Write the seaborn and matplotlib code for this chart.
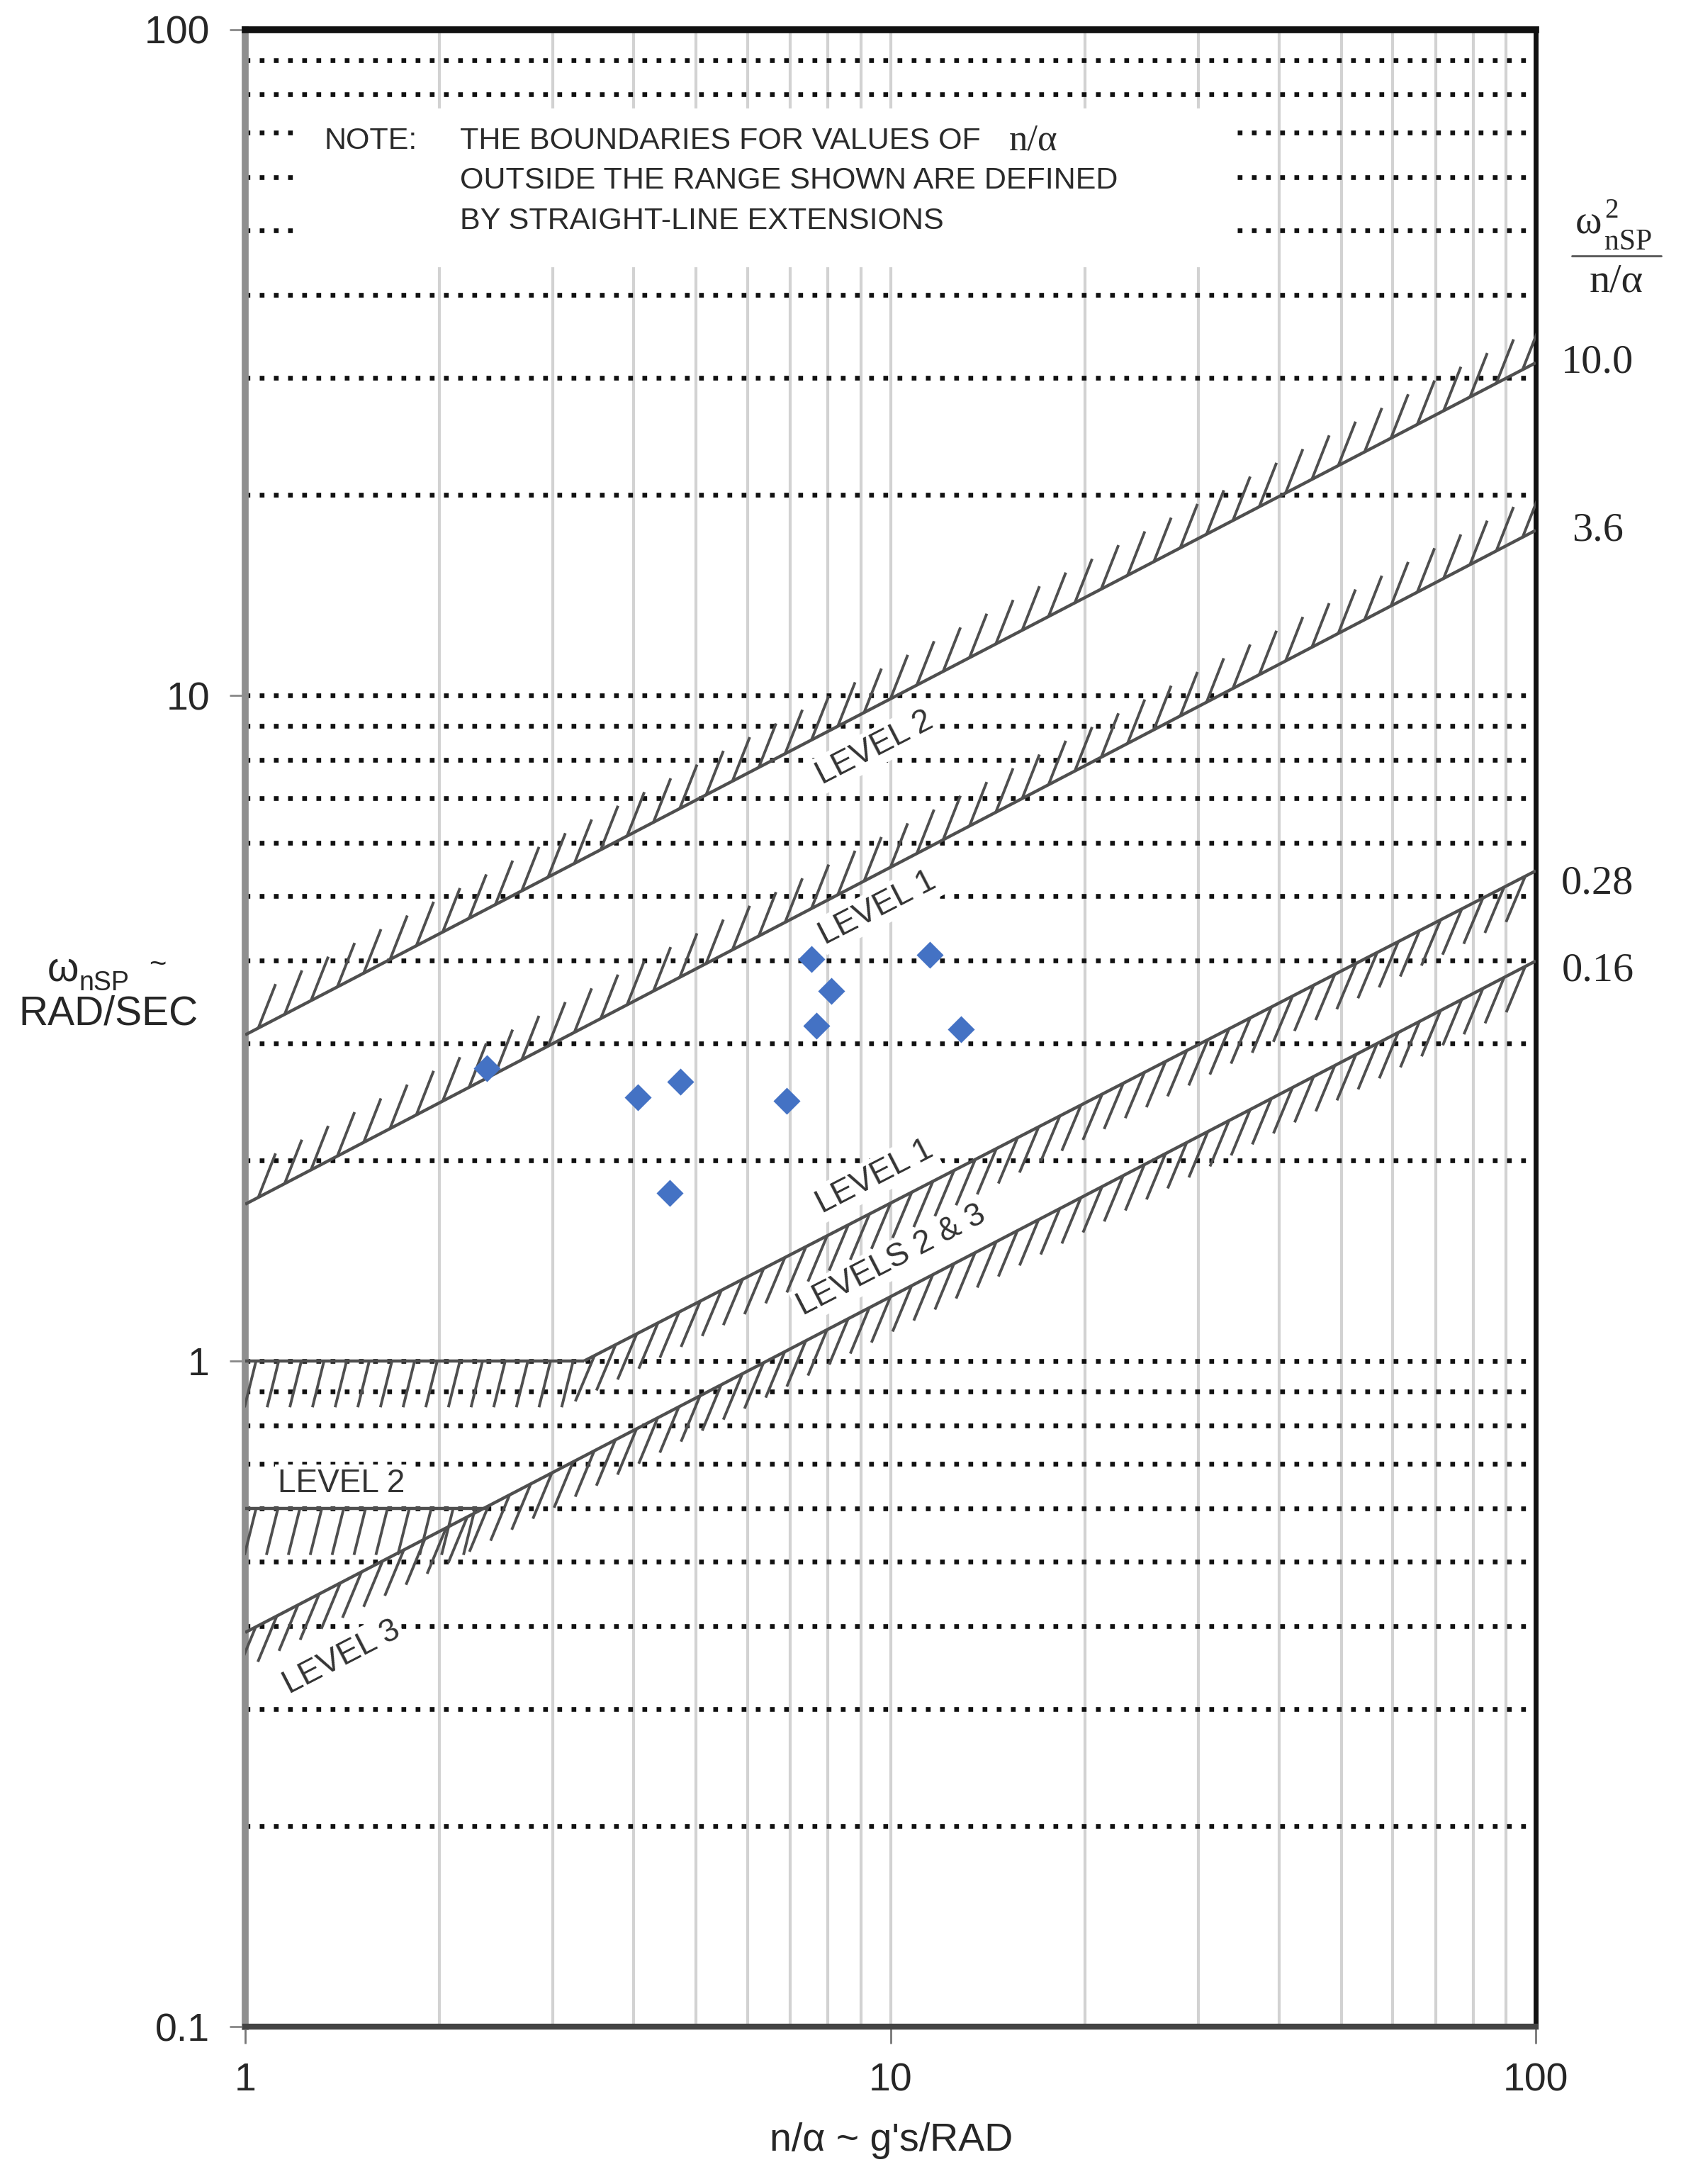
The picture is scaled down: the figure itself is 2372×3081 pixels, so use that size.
import matplotlib
matplotlib.use("Agg")
import matplotlib.pyplot as plt
import matplotlib.patheffects as pe
from matplotlib.patches import Rectangle
from matplotlib.lines import Line2D
from matplotlib import transforms
from matplotlib.ticker import NullFormatter, NullLocator
import seaborn as sns

# test points: n/alpha (g's/rad) vs short period frequency (rad/sec)
n_alpha = [2.37, 4.06, 4.73, 4.55, 6.91, 7.55, 7.67, 8.10, 11.5, 12.85]
omega_nsp = [2.75, 2.49, 2.63, 1.79, 2.46, 4.02, 3.19, 3.60, 4.08, 3.15]

# boundary lines, end points
l2_upper_x = [1, 100]
l2_upper_y = [3.09, 31.6]
l1_upper_x = [1, 100]
l1_upper_y = [1.72, 17.7]
l1_lower_flat_x = [1, 3.35]
l1_lower_flat_y = [1.0, 1.0]
l1_lower_x = [3.35, 100]
l1_lower_y = [1.0, 5.45]
l2_lower_flat_x = [1, 2.36]
l2_lower_flat_y = [0.6, 0.6]
l23_lower_x = [1, 100]
l23_lower_y = [0.391, 3.99]

# omega^2 / (n/alpha) values written at the right edge
ratio_labels = ["10.0", "3.6", "0.28", "0.16"]
ratio_label_y = [31.6, 17.7, 5.22, 3.86]

# level names inside the plot
level_text = ["LEVEL 2", "LEVEL 1", "LEVEL 1", "LEVELS 2 & 3", "LEVEL 2", "LEVEL 3"]
level_x = [9.45, 9.55, 9.45, 10.04, 1.41, 1.41]
level_y = [8.34, 4.79, 1.89, 1.416, 0.655, 0.359]
level_sloped = [True, True, True, True, False, True]

x_ticks = [1, 10, 100]
x_ticklabels = ["1", "10", "100"]
y_ticks = [0.1, 1, 10, 100]
y_ticklabels = ["0.1", "1", "10", "100"]

note_lines = ["THE BOUNDARIES FOR VALUES OF",
              "OUTSIDE THE RANGE SHOWN ARE DEFINED",
              "BY STRAIGHT-LINE EXTENSIONS"]

sns.set_theme(style="white")
plt.rcParams["font.family"] = ["Liberation Sans", "DejaVu Sans"]

W, H = 2372, 3081


def fx(px):
    return px / W


def fy(py):
    return 1 - py / H


fig = plt.figure(figsize=(W / 100, H / 100), dpi=100)
fig.patch.set_facecolor("white")
ax = fig.add_axes([fx(346), fy(2859), (2167 - 346) / W, (2859 - 42) / H])
ax.set_xscale("log")
ax.set_yscale("log")

# grid: light solid verticals, black dotted horizontals
grid_x = [m * 10.0 ** e for e in (0, 1) for m in range(2, 10)] + [10]
grid_y = [m * 10.0 ** e for e in (-1, 0, 1) for m in range(2, 10)] + [1, 10]
for gx in grid_x:
    ax.axvline(gx, color="#d2d2d2", lw=3, zorder=1)
for gy in grid_y:
    ax.axhline(gy, color="#111111", lw=4.8, linestyle=(0, (1, 2.0)),
               dash_capstyle="butt", zorder=1.5)

# white box behind the note
ax.add_patch(Rectangle((0.0379, 0.881), 0.7276, 0.0796, transform=ax.transAxes,
                       facecolor="white", edgecolor="none", zorder=2))
note_y = [0.9443, 0.9244, 0.9042]
ax.text(0.0615, note_y[0], "NOTE:", transform=ax.transAxes, ha="left", va="center",
        fontsize=31, color="#2a2a2a", zorder=3)
for line, yy in zip(note_lines, note_y):
    ax.text(0.1664, yy, line, transform=ax.transAxes, ha="left", va="center",
            fontsize=31, color="#2a2a2a", zorder=3)
ax.text(0.592, note_y[0], "n/α", transform=ax.transAxes, ha="left", va="center",
        fontsize=38, family="Liberation Serif", color="#2a2a2a", zorder=3)

line_c = "#4f4f4f"


def hatched(x, y, angle, spacing, length):
    ax.plot(x, y, color=line_c, lw=3.2, zorder=4, solid_capstyle="butt",
            path_effects=[pe.withTickedStroke(angle=angle, spacing=spacing,
                                              length=length, linewidth=2.8)])


hatched(l2_upper_x, l2_upper_y, 41, 30, 1.6)
hatched(l1_upper_x, l1_upper_y, 41, 30, 1.6)
hatched(l1_lower_flat_x, l1_lower_flat_y, -104, 22, 2.2)
hatched(l1_lower_x, l1_lower_y, -140, 24, 2.1)
hatched(l2_lower_flat_x, l2_lower_flat_y, -104, 22, 2.2)
hatched(l23_lower_x, l23_lower_y, -140, 24, 2.1)

sns.scatterplot(x=n_alpha, y=omega_nsp, marker="D", s=376, color="#4472C4",
                linewidth=0, zorder=6, ax=ax, legend=False)

ax.set_xlim(1, 100)
ax.set_ylim(0.1, 100)

# slope of the boundary lines on screen
slope_deg = 27.3
for t, xv, yv, sl in zip(level_text, level_x, level_y, level_sloped):
    ax.text(xv, yv, t, rotation=slope_deg if sl else 0, rotation_mode="anchor",
            ha="center", va="center", fontsize=33, color="#333333", zorder=3,
            bbox=dict(facecolor="white", edgecolor="none", pad=3))

tr = transforms.blended_transform_factory(ax.transAxes, ax.transData)
for lab, yv in zip(ratio_labels, ratio_label_y):
    ax.text(1.048, yv, lab, transform=tr, ha="center", va="center",
            family="Liberation Serif", fontsize=42, clip_on=False)

# omega^2_nSP / (n/alpha) header at the right
serif = "Liberation Serif"
fig.text(fx(2223), fy(330), "ω", family=serif, fontsize=41, ha="left", va="baseline")
fig.text(fx(2264), fy(307), "2", family=serif, fontsize=28, ha="left", va="baseline")
fig.text(fx(2264), fy(352), "nSP", family=serif, fontsize=30, ha="left", va="baseline")
fig.add_artist(Line2D([fx(2218), fx(2344)], [fy(361), fy(361)],
                      transform=fig.transFigure, color="#555555", lw=2))
fig.text(fx(2281), fy(397), "n/α", family=serif, fontsize=42, ha="center", va="center")

# y axis label
fig.text(fx(67), fy(1383), "ω", fontsize=41, ha="left", va="baseline")
fig.text(fx(111), fy(1397), "nSP", fontsize=27, ha="left", va="baseline")
fig.text(fx(222), fy(1362), "~", fontsize=30, ha="center", va="center")
fig.text(fx(153), fy(1430), "RAD/SEC", fontsize=41, ha="center", va="center")

# x axis label
fig.text(fx(1258), fy(3020), "n/α ~ g's/RAD", fontsize=40, ha="center", va="center")
ax.set_xlabel("")
ax.set_ylabel("")

ax.set_xticks(x_ticks)
ax.set_xticklabels(x_ticklabels)
ax.set_xticks([g for g in grid_x if g != 10], minor=True)
ax.xaxis.set_minor_formatter(NullFormatter())
ax.set_yticks(y_ticks)
ax.set_yticklabels(y_ticklabels)
ax.yaxis.set_minor_locator(NullLocator())

ax.tick_params(axis="x", which="major", direction="inout", length=34, width=2,
               color="#777777", labelsize=40, pad=19, bottom=True)
ax.tick_params(axis="x", which="minor", direction="in", length=10, width=1.5,
               color="#777777", top=True, bottom=True)
ax.tick_params(axis="y", which="major", direction="out", length=16, width=2,
               color="#888888", labelsize=40, pad=20, left=True)

ax.spines["left"].set(color="#8f8f8f", linewidth=7)
ax.spines["top"].set(color="#111111", linewidth=7)
ax.spines["right"].set(color="#111111", linewidth=5)
ax.spines["bottom"].set(color="#444444", linewidth=6)
ax.grid(False)

fig.savefig("out.png", dpi=100, facecolor="white")
